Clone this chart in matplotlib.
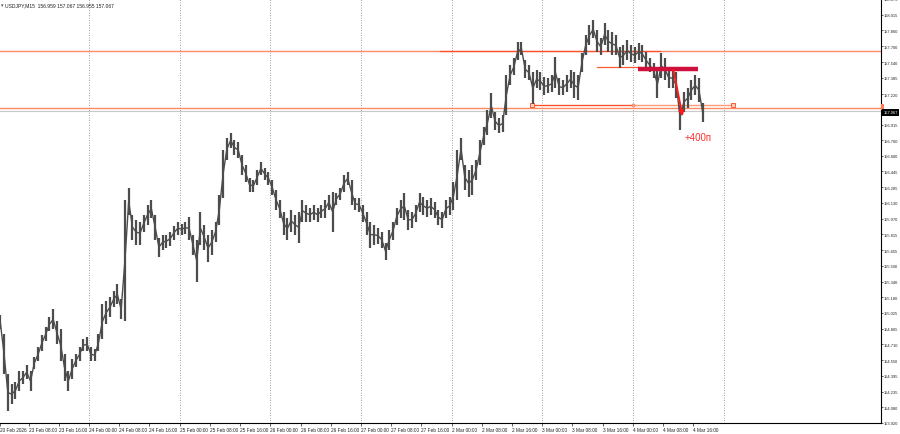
import matplotlib
matplotlib.use("Agg")
import matplotlib.pyplot as plt
import numpy as np

feb23_hi = [155.00, 154.81, 154.41, 154.31, 154.33, 154.44, 154.44, 154.50, 154.44, 154.58, 154.68, 154.80,
            154.88, 154.98, 155.06, 154.94, 154.86, 154.61, 154.44, 154.56, 154.61, 154.68, 154.76, 154.78]
feb23_lo = [154.86, 154.41, 154.04, 154.11, 154.16, 154.24, 154.31, 154.36, 154.24, 154.46, 154.54, 154.64,
            154.74, 154.84, 154.86, 154.71, 154.54, 154.34, 154.24, 154.36, 154.48, 154.54, 154.64, 154.64]
feb24_hi = [154.68, 154.66, 154.81, 155.11, 155.14, 155.18, 155.24, 155.31, 155.16, 156.16, 156.28, 156.01,
            155.96, 155.94, 156.01, 156.11, 156.16, 156.01, 155.78, 155.81, 155.81, 155.84, 155.90, 155.94]
feb24_lo = [154.54, 154.54, 154.64, 154.76, 154.91, 154.98, 155.08, 155.11, 154.96, 154.94, 156.01, 155.76,
            155.71, 155.71, 155.84, 155.91, 155.98, 155.76, 155.59, 155.66, 155.68, 155.70, 155.76, 155.81]
feb25_hi = [155.92, 155.94, 155.99, 155.81, 155.76, 156.04, 155.91, 155.81, 155.86, 155.94, 156.21, 156.66,
            156.78, 156.83, 156.76, 156.74, 156.61, 156.51, 156.38, 156.36, 156.46, 156.54, 156.48, 156.44]
feb25_lo = [155.81, 155.82, 155.76, 155.61, 155.34, 155.71, 155.66, 155.54, 155.61, 155.74, 155.91, 156.18,
            156.56, 156.68, 156.61, 156.58, 156.41, 156.34, 156.24, 156.24, 156.31, 156.41, 156.36, 156.31]
feb26_hi = [156.36, 156.26, 156.16, 156.04, 155.98, 156.06, 156.01, 156.04, 156.16, 156.11, 156.08, 156.11,
            156.08, 156.11, 156.16, 156.21, 156.24, 156.23, 156.28, 156.41, 156.44, 156.36, 156.18, 156.18]
feb26_lo = [156.21, 156.06, 155.98, 155.81, 155.76, 155.84, 155.81, 155.73, 155.94, 155.94, 155.94, 155.96,
            155.94, 155.98, 155.98, 156.06, 155.84, 156.11, 156.16, 156.24, 156.31, 156.11, 156.06, 156.04]
feb27_hi = [156.11, 156.04, 155.94, 155.91, 155.88, 155.84, 155.73, 155.86, 155.94, 156.08, 156.16, 156.23,
            156.06, 156.04, 156.11, 156.23, 156.19, 156.16, 156.18, 156.14, 156.06, 156.04, 156.16, 156.19]
feb27_lo = [155.94, 155.81, 155.68, 155.71, 155.72, 155.68, 155.56, 155.66, 155.76, 155.91, 155.98, 155.96,
            155.86, 155.88, 155.94, 156.04, 156.01, 155.99, 156.01, 155.98, 155.91, 155.88, 155.98, 156.01]
mar02_hi = [156.34, 156.66, 156.78, 156.51, 156.46, 156.51, 156.56, 156.76, 156.89, 157.06, 157.23, 157.04,
            156.98, 157.01, 157.41, 157.51, 157.58, 157.74, 157.74, 157.56, 157.51, 157.44, 157.46, 157.44]
mar02_lo = [156.06, 156.16, 156.56, 156.26, 156.19, 156.21, 156.36, 156.51, 156.71, 156.81, 156.98, 156.86,
            156.83, 156.84, 157.01, 157.31, 157.41, 157.56, 157.61, 157.38, 157.36, 157.12, 157.28, 157.26]
mar03_hi = [157.39, 157.38, 157.41, 157.59, 157.38, 157.36, 157.41, 157.46, 157.44, 157.41, 157.63, 157.81,
            157.91, 157.96, 157.86, 157.78, 157.93, 157.86, 157.84, 157.81, 157.69, 157.71, 157.76, 157.71]
mar03_lo = [157.21, 157.23, 157.24, 157.28, 157.21, 157.21, 157.24, 157.28, 157.18, 157.16, 157.44, 157.61,
            157.71, 157.78, 157.64, 157.61, 157.71, 157.64, 157.61, 157.61, 157.48, 157.51, 157.56, 157.54]
mar04_hi = [157.69, 157.73, 157.71, 157.64, 157.58, 157.53, 157.46, 157.63, 157.58, 157.49, 157.48, 157.44,
            157.11, 157.24, 157.28, 157.36, 157.41, 157.38, 157.13]
mar04_lo = [157.53, 157.56, 157.54, 157.48, 157.44, 157.38, 157.18, 157.38, 157.36, 157.28, 157.28, 157.18,
            156.86, 157.04, 157.08, 157.16, 157.21, 157.14, 156.94]

price_ticks = [158.175, 158.015, 157.860, 157.700, 157.540, 157.385, 157.220, 156.915, 156.760, 156.600,
               156.445, 156.285, 156.130, 155.970, 155.815, 155.655, 155.500, 155.340, 155.180, 155.025,
               154.865, 154.710, 154.550, 154.395, 154.235, 154.080, 153.920]
time_labels = ["20 Feb 2026", "23 Feb 08:00", "23 Feb 16:00", "24 Feb 00:00", "24 Feb 08:00", "24 Feb 16:00",
               "25 Feb 00:00", "25 Feb 08:00", "25 Feb 16:00", "26 Feb 00:00", "26 Feb 08:00", "26 Feb 16:00",
               "27 Feb 00:00", "27 Feb 08:00", "27 Feb 16:00", "2 Mar 00:00", "2 Mar 08:00", "2 Mar 16:00",
               "3 Mar 00:00", "3 Mar 08:00", "3 Mar 16:00", "4 Mar 00:00", "4 Mar 08:00", "4 Mar 16:00"]

level_top = 157.65
level_low = 157.08
bid = 157.05
seg_low = 157.115
seg_mid = 157.49
target_bar = 157.47

highs = np.array(feb23_hi + feb24_hi + feb25_hi + feb26_hi + feb27_hi + mar02_hi + mar03_hi + mar04_hi)
lows = np.array(feb23_lo + feb24_lo + feb25_lo + feb26_lo + feb27_lo + mar02_lo + mar03_lo + mar04_lo)
idx = np.arange(len(highs))

fig = plt.figure(figsize=(9, 4.35), dpi=100)
ax = fig.add_axes([0, 11 / 435, 881 / 900, 424 / 435])
ax.set_xlim(-0.08, 233.2)
ax.set_ylim(153.92, 158.17)

# day separators
for d in range(8):
    ax.axvline(23.5 + 24 * d, color="#808080", lw=0.6, ls=(0, (1, 2)), zorder=1)

# horizontal levels
ax.axhline(level_top, color="#ff8a68", lw=1.0, zorder=2)
ax.plot([116.4, 174.7], [level_top, level_top], color="#ff4f2b", lw=0.9, zorder=3)
ax.axhline(bid, color="#c8c8c8", lw=0.8, zorder=2)
ax.axhline(level_low, color="#ff8a60", lw=1.0, zorder=2)
ax.plot([140.8, 194.0], [seg_low, seg_low], color="#ff9a7a", lw=1.0, zorder=3)
ax.plot([140.8, 167.5], [seg_low, seg_low], color="#ff4f2b", lw=0.8, zorder=3)
ax.plot([140.8, 194.0], [seg_low, seg_low], ls="none", marker="s", ms=2.2, mfc="#ffd0c0", mec="#ff5a30",
        mew=0.7, zorder=4)
ax.plot([167.5], [seg_low], ls="none", marker="o", ms=2.2, mfc="#ffb090", mec="#ff7a50", mew=0.5, zorder=4)
ax.plot([158.0, 169.4], [seg_mid, seg_mid], color="#ff5a30", lw=0.9, zorder=3)

# price bars: hourly ranges plus a thin path through their middles
ax.vlines(idx, lows, highs, color="#4c4c4c", lw=1.6, zorder=5)
ax.plot(idx, (highs + lows) / 2, color="#4c4c4c", lw=1.0, zorder=5)

# trade markup
ax.plot([168.8, 184.7], [target_bar, target_bar], color="#d0103c", lw=3.2, solid_capstyle="butt", zorder=6)
ax.annotate("", xy=(180.8, 156.97), xytext=(178.1, 157.49),
            arrowprops=dict(arrowstyle="-|>", color="#ff1a1a", lw=1.4, mutation_scale=7), zorder=7)
ax.text(181.3, 156.79, "+400п", color="#ff3030", fontsize=7, family="Liberation Sans", va="center", zorder=7)

# axes look
for s in ["left", "top"]:
    ax.spines[s].set_visible(False)
ax.spines["right"].set_linewidth(0.8)
ax.spines["bottom"].set_linewidth(0.8)

ax.yaxis.tick_right()
ax.set_yticks(price_ticks)
ax.set_yticklabels([f"{p:.3f}" for p in price_ticks])
ax.tick_params(axis="y", direction="out", length=1.5, width=0.5, pad=0.6, labelsize=2.9, colors="#222222")

xt = [0.0] + [7.5 + 8 * k for k in range(len(time_labels) - 1)]
ax.set_xticks(xt)
ax.set_xticklabels(time_labels, ha="left")
ax.tick_params(axis="x", direction="out", length=2, width=0.5, pad=1, labelsize=3.4, colors="#222222")
for lab in ax.get_xticklabels() + ax.get_yticklabels():
    lab.set_family("Liberation Sans")

# price boxes on the scale
ax.text(1.001, (level_low - 153.92) / (158.17 - 153.92) + 0.002, " ", transform=ax.transAxes, fontsize=2.2,
        va="center", ha="left", bbox=dict(boxstyle="square,pad=0.25", fc="#ff7a50", ec="none"))
ax.text(1.003, (bid - 153.92) / (158.17 - 153.92) - 0.004, "157.067", transform=ax.transAxes, fontsize=2.9,
        family="Liberation Sans", color="white", va="center", ha="left",
        bbox=dict(boxstyle="square,pad=0.3", fc="black", ec="none"))

# symbol header
fig.text(0.001, 0.992, "▾", fontsize=3.5, color="#444444", va="top")
fig.text(0.006, 0.993, "USDJPY,M15  156.959 157.067 156.955 157.067", fontsize=3.6,
         family="Liberation Sans", color="#222222", va="top")

fig.savefig("out.png", dpi=100, facecolor="white")
